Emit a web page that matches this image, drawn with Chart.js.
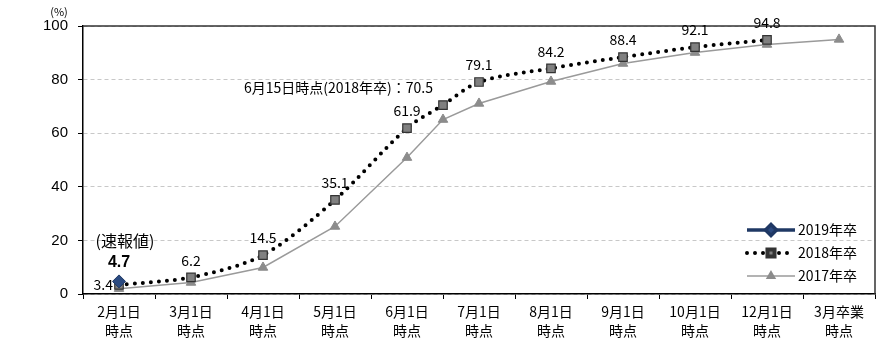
<!DOCTYPE html>
<html>
<head>
<meta charset="utf-8">
<script src="https://cdn.jsdelivr.net/npm/chart.js@4/dist/chart.umd.min.js"></script>
<style>
  html, body { margin: 0; padding: 0; background: #fff; }
  #wrap { width: 893px; height: 352px; }
</style>
</head>
<body>
<div id="wrap"><canvas id="chart" width="893" height="352"></canvas></div>
<script>
// ---- data ----
const categories = [
  ['2月1日', '時点'], ['3月1日', '時点'], ['4月1日', '時点'], ['5月1日', '時点'],
  ['6月1日', '時点'], ['7月1日', '時点'], ['8月1日', '時点'], ['9月1日', '時点'],
  ['10月1日', '時点'], ['12月1日', '時点'], ['3月卒業', '時点']
];
const seriesNames = ['2019年卒', '2018年卒', '2017年卒'];

// x position = category index (4.5 = 6月15日)
const pos2019 = [0];
const values2019 = [4.7];
const pos2018 = [0, 1, 2, 3, 4, 4.5, 5, 6, 7, 8, 9];
const values2018 = [3.4, 6.2, 14.5, 35.1, 61.9, 70.5, 79.1, 84.2, 88.4, 92.1, 94.8];
const pos2017 = [0, 1, 2, 3, 4, 4.5, 5, 6, 7, 8, 9, 10];
const values2017 = [2.0, 4.3, 9.9, 25.2, 50.9, 65.1, 71.1, 79.3, 86.0, 90.1, 93.1, 95.0];

const yMin = 0, yMax = 100, yStep = 20;
const midJuneNote = '6月15日時点(2018年卒)：';
const prelimNote = '(速報値)';
const unitLabel = '(%)';

const FONT = "'Liberation Sans', 'Noto Sans CJK JP', sans-serif";
const JFONT = "'Noto Sans CJK JP', sans-serif";

const toXY = (xs, ys) => xs.map((x, i) => ({ x: x, y: ys[i] }));

// ---- plugins ----
const framePlugin = {
  id: 'frame',
  beforeDatasetsDraw(chart) {
    const { ctx, chartArea: a } = chart;
    ctx.save();
    ctx.strokeStyle = '#333';
    ctx.lineWidth = 1.5;
    ctx.beginPath();
    ctx.moveTo(a.left, a.top);
    ctx.lineTo(a.right, a.top);
    ctx.lineTo(a.right, a.bottom);
    ctx.stroke();
    ctx.restore();
  }
};

const labelPlugin = {
  id: 'labels',
  afterDatasetsDraw(chart) {
    const ctx = chart.ctx;
    ctx.save();
    ctx.fillStyle = '#000';
    ctx.textBaseline = 'middle';

    // 2018 values
    ctx.font = '14px ' + JFONT;
    chart.getDatasetMeta(1).data.forEach((pt, i) => {
      const txt = values2018[i].toFixed(1);
      if (i === 0) {
        ctx.textAlign = 'right';
        ctx.fillText(txt, pt.x - 6, pt.y);
      } else if (pos2018[i] % 1 !== 0) {
        ctx.textAlign = 'right';
        ctx.fillText(midJuneNote + txt, pt.x - 10, pt.y - 17);
      } else {
        ctx.textAlign = 'center';
        ctx.fillText(txt, pt.x, pt.y - 17);
      }
    });

    // 2019 value
    const p = chart.getDatasetMeta(0).data[0];
    ctx.textAlign = 'center';
    ctx.font = 'bold 16px ' + FONT;
    ctx.fillText(values2019[0].toFixed(1), p.x, p.y - 19);
    ctx.font = '16px ' + JFONT;
    ctx.fillText(prelimNote, p.x + 6, p.y - 40);

    // unit
    ctx.font = '11px ' + JFONT;
    ctx.fillText(unitLabel, 59, 12);
    ctx.restore();
  }
};

const legendPlugin = {
  id: 'customLegend',
  afterDraw(chart) {
    const { ctx, chartArea: a } = chart;
    ctx.save();
    chart.data.datasets.forEach((ds, i) => {
      const y = a.bottom - 64 + i * 23;
      const x0 = a.right - 128, x1 = a.right - 80;
      ctx.strokeStyle = ds.borderColor;
      ctx.lineWidth = ds.borderWidth;
      ctx.lineCap = ds.borderCapStyle || 'butt';
      ctx.setLineDash(ds.borderDash || []);
      ctx.beginPath();
      ctx.moveTo(x0, y);
      ctx.lineTo(x1, y);
      ctx.stroke();
      ctx.setLineDash([]);
      ctx.fillStyle = ds.pointBackgroundColor;
      ctx.strokeStyle = ds.pointBorderColor;
      Chart.helpers.drawPoint(ctx, {
        pointStyle: ds.pointStyle, radius: ds.pointRadius - 1,
        borderWidth: ds.pointBorderWidth, rotation: 0
      }, (x0 + x1) / 2, y);
      ctx.fillStyle = '#000';
      ctx.font = '14px ' + JFONT;
      ctx.textAlign = 'left';
      ctx.textBaseline = 'middle';
      ctx.fillText(ds.label, x1 + 3, y);
    });
    ctx.restore();
  }
};

// ---- chart ----
new Chart(document.getElementById('chart'), {
  type: 'line',
  data: {
    labels: categories,
    datasets: [
      {
        label: seriesNames[0],
        data: toXY(pos2019, values2019),
        xAxisID: 'xv',
        borderColor: '#1f3864',
        borderWidth: 3.5,
        pointStyle: 'rectRot',
        pointRadius: 6.5,
        pointBackgroundColor: '#2b4a80',
        pointBorderColor: '#1f3864',
        pointBorderWidth: 1,
      },
      {
        label: seriesNames[1],
        data: toXY(pos2018, values2018),
        xAxisID: 'xv',
        borderColor: '#000',
        borderWidth: 4,
        borderDash: [0, 8],
        borderCapStyle: 'round',
        tension: 0.3,
        pointStyle: 'rect',
        pointRadius: 6,
        pointBackgroundColor: '#808080',
        pointBorderColor: '#333',
        pointBorderWidth: 1.2,
      },
      {
        label: seriesNames[2],
        data: toXY(pos2017, values2017),
        xAxisID: 'xv',
        borderColor: '#9a9a9a',
        borderWidth: 1.5,
        pointStyle: 'triangle',
        pointRadius: 5.5,
        pointBackgroundColor: '#8c8c8c',
        pointBorderColor: '#8c8c8c',
        pointBorderWidth: 1,
      }
    ]
  },
  options: {
    responsive: false,
    animation: false,
    layout: { padding: { top: 26, right: 18, left: 0, bottom: 0 } },
    plugins: {
      legend: { display: false },
      tooltip: { enabled: false }
    },
    scales: {
      x: {
        type: 'category',
        offset: true,
        grid: { offset: true, drawOnChartArea: false, tickLength: 5, tickColor: '#000' },
        border: { display: true, color: '#000', width: 1.5 },
        ticks: { color: '#000', font: { family: JFONT, size: 14, lineHeight: 1.35 }, padding: 3, maxRotation: 0, autoSkip: false },
        afterFit(s) { s.height = 58; }
      },
      xv: {
        type: 'linear',
        display: false,
        min: -0.5,
        max: categories.length - 0.5
      },
      y: {
        min: yMin,
        max: yMax,
        ticks: { stepSize: yStep, color: '#000', font: { family: FONT, size: 15 }, padding: 10 },
        grid: { color: '#c8c8c8', tickColor: '#000', tickLength: 5 },
        border: { display: true, color: '#000', width: 1.5, dash: [4, 3] },
        afterFit(s) { s.width = 83; }
      }
    }
  },
  plugins: [framePlugin, labelPlugin, legendPlugin]
});
</script>
</body>
</html>
